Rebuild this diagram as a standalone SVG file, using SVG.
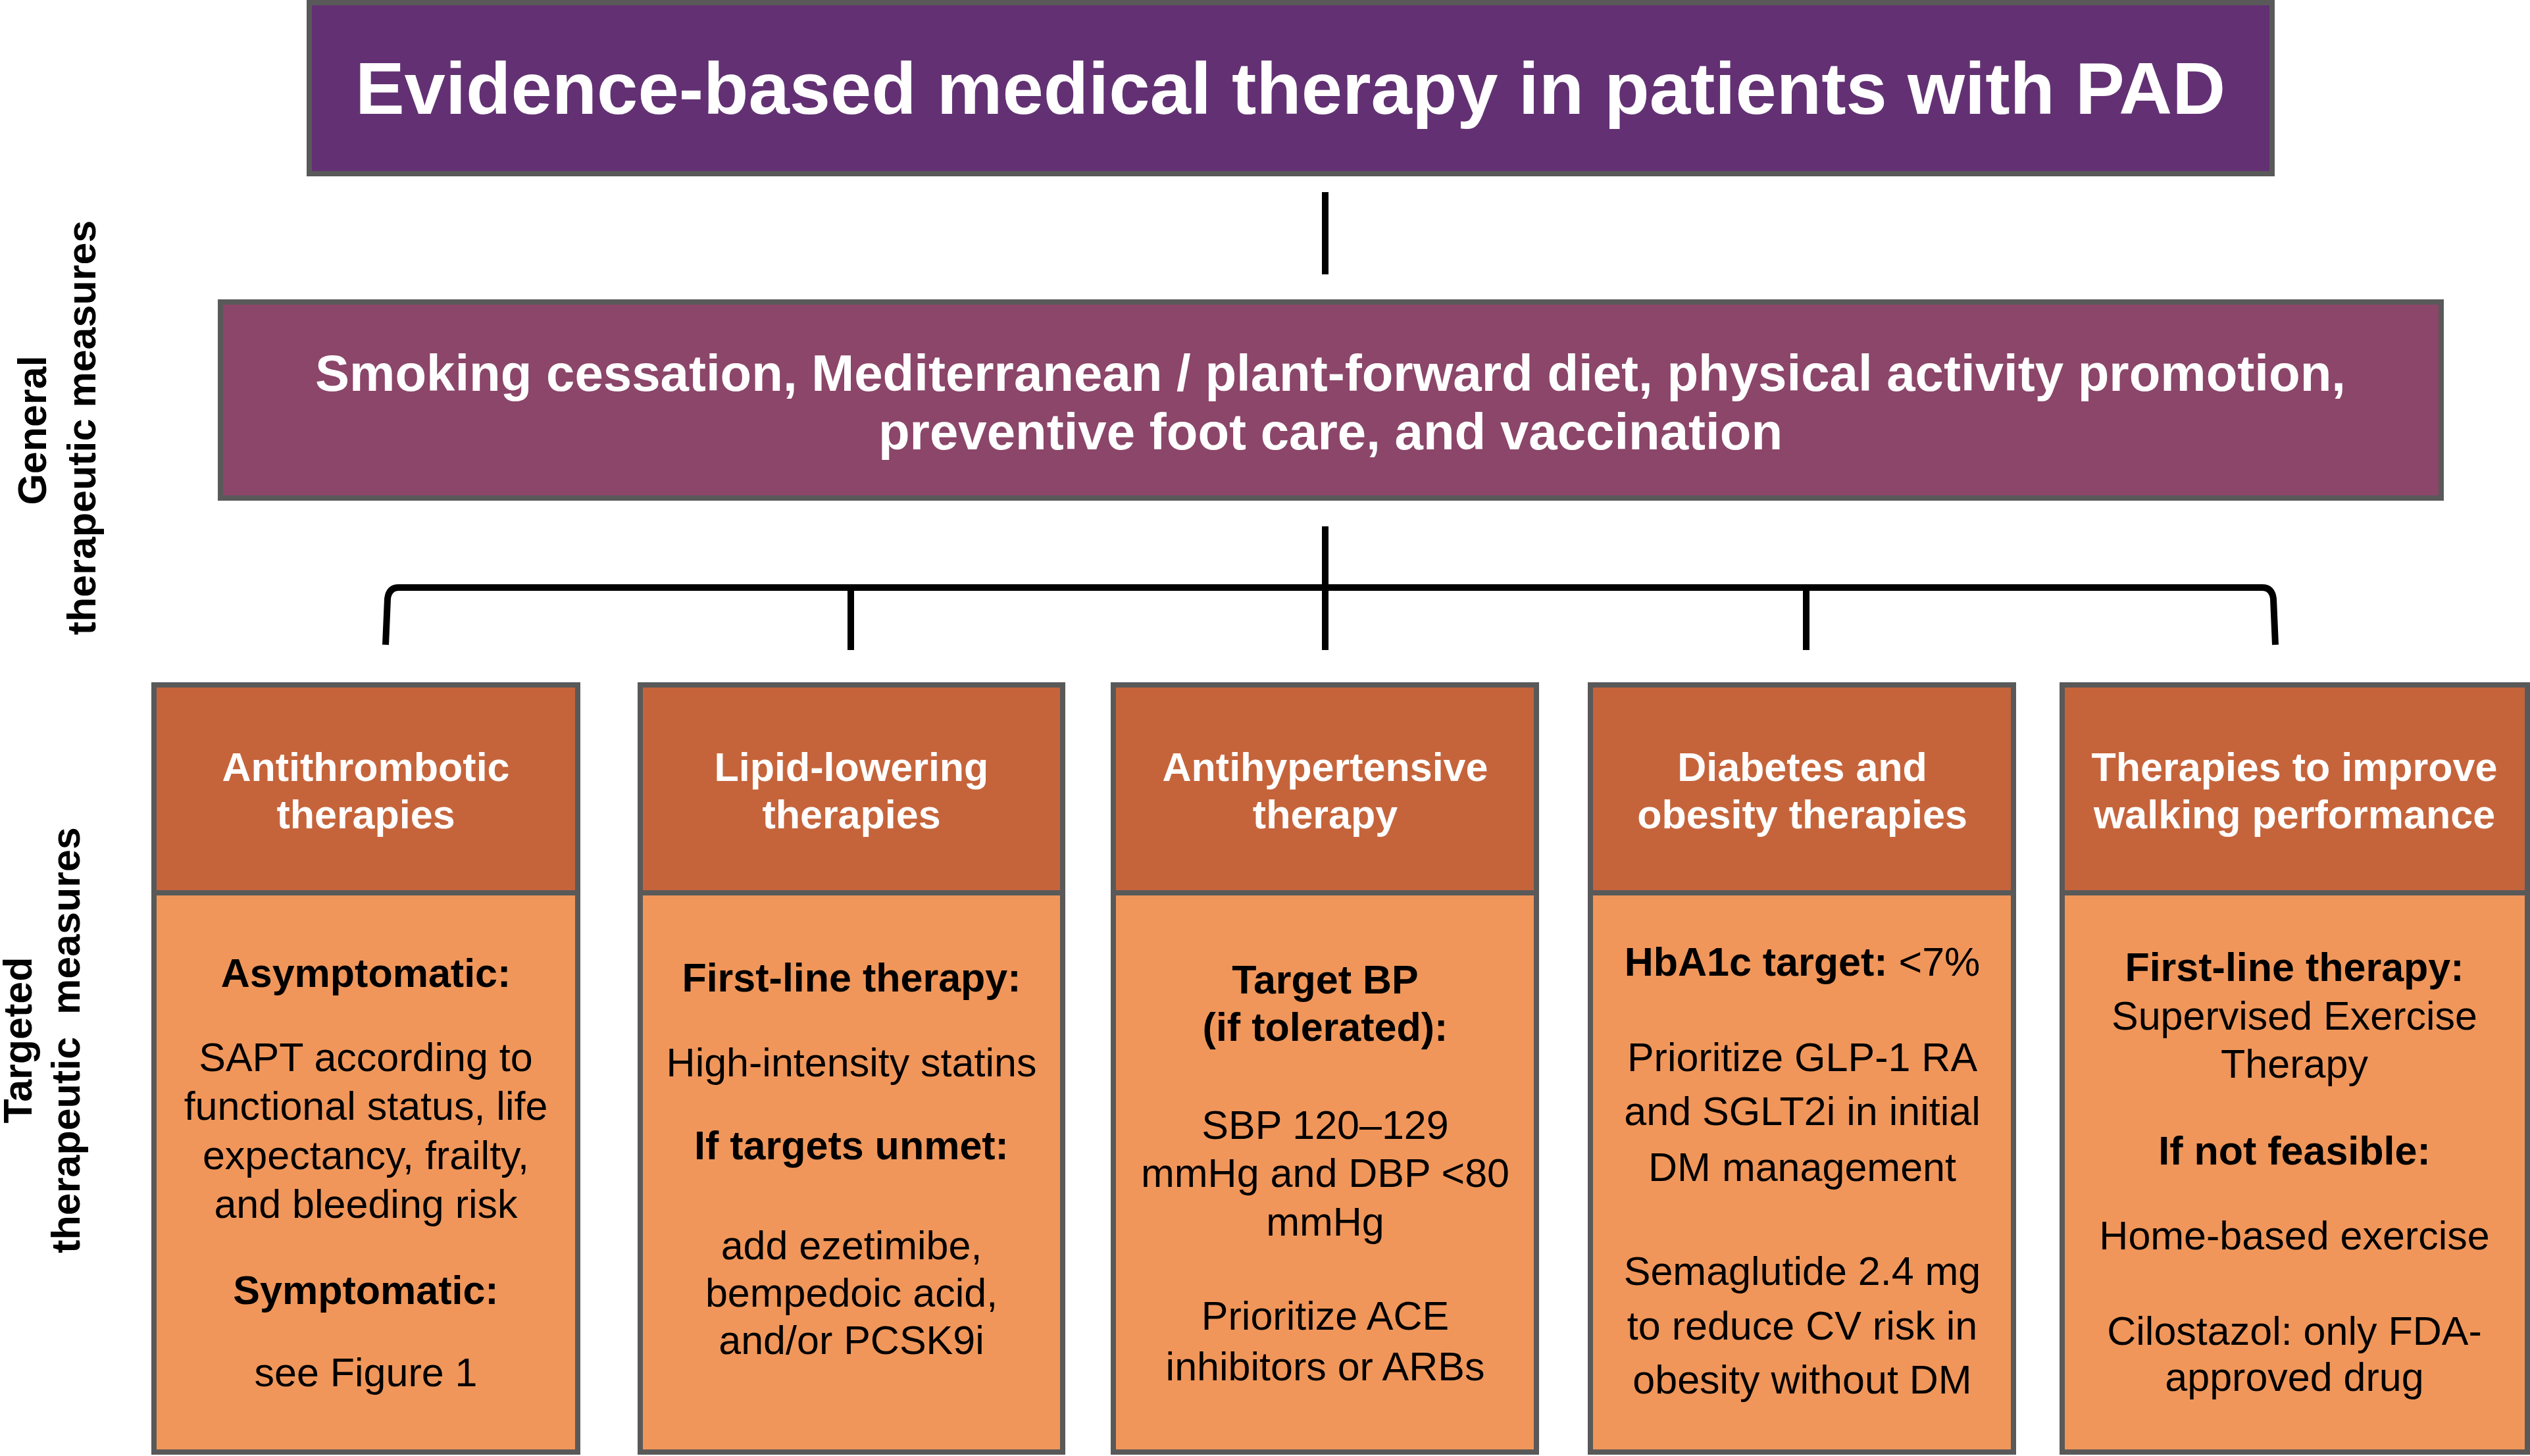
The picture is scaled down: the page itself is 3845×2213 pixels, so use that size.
<svg xmlns="http://www.w3.org/2000/svg" width="3845" height="2213" viewBox="0 0 3845 2213">
<style>
text{font-family:"Liberation Sans",Arial,sans-serif;text-anchor:middle;}
.title{font-size:112px;font-weight:bold;fill:#ffffff;}
.gen{font-size:78px;font-weight:bold;fill:#ffffff;}
.hdr{font-size:61px;font-weight:bold;fill:#ffffff;}
.b{font-size:61px;font-weight:bold;fill:#000000;}
.r{font-size:61px;fill:#000000;}
.side{font-size:61px;font-weight:bold;fill:#000000;white-space:pre;}
.box{stroke:#595959;stroke-width:8;}
.h{fill:#C5643B;}
.bd{fill:#F0965A;}
.conn{stroke:#000000;stroke-width:10;fill:none;}
</style>
<rect width="3845" height="2213" fill="#ffffff"/>
<g id="connectors">
<line class="conn" x1="2014" y1="292" x2="2014" y2="417"/>
<line class="conn" x1="2014" y1="800" x2="2014" y2="988"/>
<path class="conn" d="M586 980 L589 910 Q591 893 606 893 L3438 893 Q3453 893 3455 910 L3458 980"/>
<line class="conn" x1="1293" y1="893" x2="1293" y2="988"/>
<line class="conn" x1="2745" y1="893" x2="2745" y2="988"/>
</g>
<g id="side-labels">
<text class="side" transform="translate(70,654) rotate(-90)">General</text>
<text class="side" transform="translate(145,650) rotate(-90)">therapeutic measures</text>
<text class="side" transform="translate(48,1581) rotate(-90)">Targeted</text>
<text class="side" transform="translate(121,1581) rotate(-90)">therapeutic  measures</text>
</g>
<g id="title">
<rect class="box" x="470" y="4" width="2983" height="260" fill="#633173"/>
<text class="title" x="1961" y="173">Evidence-based medical therapy in patients with PAD</text>
</g>
<g id="general">
<rect class="box" x="335" y="459" width="3375" height="298" fill="#8B4669"/>
<text class="gen" x="2022" y="594">Smoking cessation, Mediterranean / plant-forward diet, physical activity promotion,</text>
<text class="gen" x="2022" y="683">preventive foot care, and vaccination</text>
</g>
<g id="antithrombotic">
<rect class="box h" x="234" y="1041" width="644" height="316"/>
<rect class="box bd" x="234" y="1357" width="644" height="850"/>
<text class="hdr" x="556" y="1187">Antithrombotic</text>
<text class="hdr" x="556" y="1259">therapies</text>
<text class="b" x="556" y="1500">Asymptomatic:</text>
<text class="r" x="556" y="1628">SAPT according to</text>
<text class="r" x="556" y="1702">functional status, life</text>
<text class="r" x="556" y="1777">expectancy, frailty,</text>
<text class="r" x="556" y="1851">and bleeding risk</text>
<text class="b" x="556" y="1982">Symptomatic:</text>
<text class="r" x="556" y="2107">see Figure 1</text>
</g>
<g id="lipid">
<rect class="box h" x="973" y="1041" width="642" height="316"/>
<rect class="box bd" x="973" y="1357" width="642" height="850"/>
<text class="hdr" x="1294" y="1187">Lipid-lowering</text>
<text class="hdr" x="1294" y="1259">therapies</text>
<text class="b" x="1294" y="1507">First-line therapy:</text>
<text class="r" x="1294" y="1636">High-intensity statins</text>
<text class="b" x="1294" y="1762">If targets unmet:</text>
<text class="r" x="1294" y="1914">add ezetimibe,</text>
<text class="r" x="1294" y="1986">bempedoic acid,</text>
<text class="r" x="1294" y="2058">and/or PCSK9i</text>
</g>
<g id="antihypertensive">
<rect class="box h" x="1692" y="1041" width="643" height="316"/>
<rect class="box bd" x="1692" y="1357" width="643" height="850"/>
<text class="hdr" x="2014" y="1187">Antihypertensive</text>
<text class="hdr" x="2014" y="1259">therapy</text>
<text class="b" x="2014" y="1510">Target BP</text>
<text class="b" x="2014" y="1582">(if tolerated):</text>
<text class="r" x="2014" y="1731">SBP 120–129</text>
<text class="r" x="2014" y="1804">mmHg and DBP &lt;80</text>
<text class="r" x="2014" y="1878">mmHg</text>
<text class="r" x="2014" y="2021">Prioritize ACE</text>
<text class="r" x="2014" y="2098">inhibitors or ARBs</text>
</g>
<g id="diabetes">
<rect class="box h" x="2417" y="1041" width="643" height="316"/>
<rect class="box bd" x="2417" y="1357" width="643" height="850"/>
<text class="hdr" x="2739" y="1187">Diabetes and</text>
<text class="hdr" x="2739" y="1259">obesity therapies</text>
<text class="b" x="2739" y="1483">HbA1c target: <tspan font-weight="normal">&lt;7%</tspan></text>
<text class="r" x="2739" y="1628">Prioritize GLP-1 RA</text>
<text class="r" x="2739" y="1710">and SGLT2i in initial</text>
<text class="r" x="2739" y="1795">DM management</text>
<text class="r" x="2739" y="1953">Semaglutide 2.4 mg</text>
<text class="r" x="2739" y="2036">to reduce CV risk in</text>
<text class="r" x="2739" y="2118">obesity without DM</text>
</g>
<g id="walking">
<rect class="box h" x="3134" y="1041" width="707" height="316"/>
<rect class="box bd" x="3134" y="1357" width="707" height="850"/>
<text class="hdr" x="3487" y="1187">Therapies to improve</text>
<text class="hdr" x="3487" y="1259">walking performance</text>
<text class="b" x="3487" y="1491">First-line therapy:</text>
<text class="r" x="3487" y="1565">Supervised Exercise</text>
<text class="r" x="3487" y="1638">Therapy</text>
<text class="b" x="3487" y="1770">If not feasible:</text>
<text class="r" x="3487" y="1899">Home-based exercise</text>
<text class="r" x="3487" y="2044">Cilostazol: only FDA-</text>
<text class="r" x="3487" y="2114">approved drug</text>
</g>
</svg>
